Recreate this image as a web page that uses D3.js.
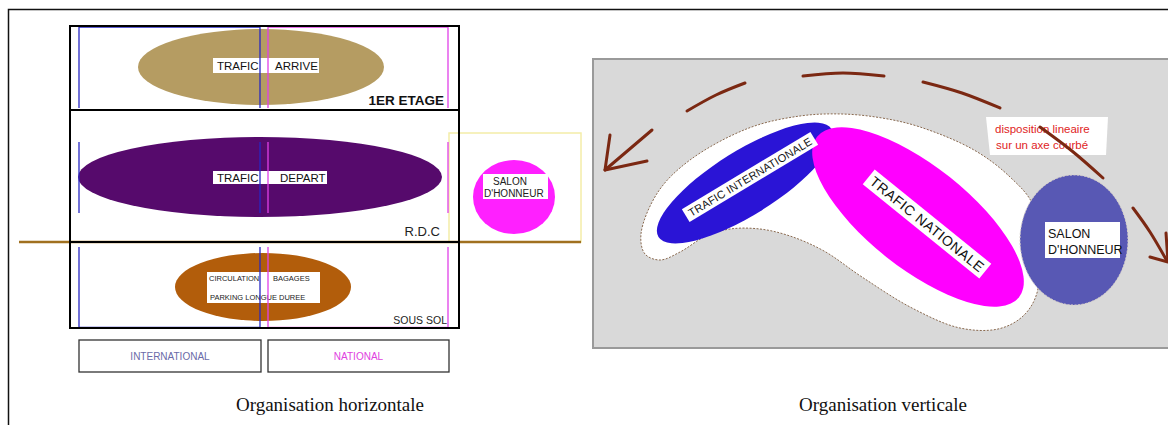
<!DOCTYPE html>
<html><head><meta charset="utf-8">
<script src="https://cdn.jsdelivr.net/npm/d3@7"></script>
<style>body{margin:0;background:#fff}svg{display:block}</style>
</head><body>
<svg id="c" width="1168" height="425"></svg>
<script>
// ---- content ----
const levels = ["1ER ETAGE", "R.D.C", "SOUS SOL"];
const zones = ["INTERNATIONAL", "NATIONAL"];
const flowsLeft = [["TRAFIC", "ARRIVE"], ["TRAFIC", "DEPART"], ["CIRCULATION", "BAGAGES", "PARKING LONGUE DUREE"]];
const salonLines = ["SALON", "D'HONNEUR"];
const flowsRight = ["TRAFIC INTERNATIONALE", "TRAFIC NATIONALE"];
const noteLines = ["disposition lineaire", "sur un axe courbé"];
const titles = ["Organisation horizontale", "Organisation verticale"];

const svg = d3.select("#c");
const SANS = "'Liberation Sans', Arial, sans-serif";
const SERIF = "'Liberation Serif', 'Times New Roman', serif";

// outer frame
svg.append("path").attr("d", "M8.5,440 V9.5 H1180").attr("fill", "none").attr("stroke", "#111").attr("stroke-width", 1.5);

// ================= LEFT: horizontal organisation =================
const L = svg.append("g");
const x0 = 70, x1 = 459;
const yLev = [26, 110, 242, 328];             // level boundaries
const xInt = [79, 260], xNat = [268, 448];    // zone columns

// yellow side frame (salon)
L.append("rect").attr("x", 449).attr("y", 133).attr("width", 132).attr("height", 109)
  .attr("fill", "none").attr("stroke", "#f4eda8").attr("stroke-width", 1.5);

// ellipses
const ell = [
  {cx: 261, cy: 67, rx: 123, ry: 38, fill: "#b59c62"},
  {cx: 260, cy: 177, rx: 182, ry: 40, fill: "#560a6c"},
  {cx: 263, cy: 287, rx: 88, ry: 34, fill: "#b25d0b"}
];
L.selectAll("ellipse.lev").data(ell).join("ellipse").attr("class", "lev")
  .attr("cx", d => d.cx).attr("cy", d => d.cy).attr("rx", d => d.rx).attr("ry", d => d.ry)
  .attr("fill", d => d.fill);

// white label boxes
L.append("rect").attr("x", 213).attr("y", 58).attr("width", 106).attr("height", 15).attr("fill", "#fff");
L.append("rect").attr("x", 213).attr("y", 171).attr("width", 114).attr("height", 13).attr("fill", "#fff");
L.append("rect").attr("x", 207).attr("y", 272).attr("width", 113).attr("height", 31).attr("fill", "#fff");

const t = (g, x, y, s, size, fill, anchor, weight) => g.append("text").attr("x", x).attr("y", y)
  .attr("font-family", SANS).attr("font-size", size).attr("fill", fill || "#111")
  .attr("text-anchor", anchor || "start").attr("font-weight", weight || "normal").text(s);

t(L, 217, 70, flowsLeft[0][0], 11.5);
t(L, 275, 70, flowsLeft[0][1], 11.5);
t(L, 217, 182, flowsLeft[1][0], 11.5);
t(L, 280, 182, flowsLeft[1][1], 11.5);
t(L, 209, 281, flowsLeft[2][0], 7.5, "#222");
t(L, 273, 281, flowsLeft[2][1], 7.5, "#222");
t(L, 210, 300, flowsLeft[2][2], 7.5, "#222");

// zone lines (blue / magenta)
const segs = [[26, 108], [142, 213], [247, 328]];
const zl = [];
segs.forEach(s => {
  zl.push({x: xInt[0], y0: s[0], y1: s[1], c: "#2727c4"});
  zl.push({x: xInt[1], y0: s[0], y1: s[1], c: "#2727c4"});
  zl.push({x: xNat[0], y0: s[0], y1: s[1], c: "#e040e8"});
  zl.push({x: xNat[1], y0: s[0], y1: s[1], c: "#e040e8"});
});
L.selectAll("line.z").data(zl).join("line").attr("class", "z")
  .attr("x1", d => d.x).attr("x2", d => d.x).attr("y1", d => d.y0).attr("y2", d => d.y1)
  .attr("stroke", d => d.c).attr("stroke-width", 1.3);
[[27, "#2727c4", xInt], [27, "#e040e8", xNat], [327.5, "#2727c4", xInt], [327.5, "#ee60ee", xNat]].forEach(([y, c, xs]) =>
  L.append("line").attr("x1", xs[0]).attr("x2", xs[1]).attr("y1", y).attr("y2", y).attr("stroke", c).attr("stroke-width", 1.3));

// ground line
L.append("line").attr("x1", 19).attr("x2", 581).attr("y1", 242).attr("y2", 242)
  .attr("stroke", "#a0701f").attr("stroke-width", 2.5);

// building frame
L.append("rect").attr("x", x0).attr("y", yLev[0]).attr("width", x1 - x0).attr("height", yLev[3] - yLev[0])
  .attr("fill", "none").attr("stroke", "#000").attr("stroke-width", 2);
[yLev[1], yLev[2]].forEach(y => L.append("line").attr("x1", x0).attr("x2", x1).attr("y1", y).attr("y2", y)
  .attr("stroke", "#000").attr("stroke-width", 2));

// level labels
t(L, 444, 105, levels[0], 13.5, "#111", "end", "bold");
t(L, 440, 236, levels[1], 13, "#222", "end");
t(L, 447, 324, levels[2], 10.5, "#222", "end");

// salon (left)
L.append("ellipse").attr("cx", 514).attr("cy", 197).attr("rx", 41).attr("ry", 37).attr("fill", "#ff20ff");
L.append("rect").attr("x", 483).attr("y", 174).attr("width", 65).attr("height", 25).attr("fill", "#fff");
t(L, 493, 185, salonLines[0], 10, "#222");
t(L, 484, 197, salonLines[1], 10, "#222");

// zone boxes
const zb = [{x: xInt[0], w: xInt[1] - xInt[0] + 1, c: "#6a6aa8"}, {x: xNat[0], w: xNat[1] - xNat[0] + 1, c: "#e040e0"}];
zb.forEach((d, i) => {
  L.append("rect").attr("x", d.x).attr("y", 340).attr("width", d.w).attr("height", 32)
    .attr("fill", "#fff").attr("stroke", "#333").attr("stroke-width", 1.3);
  t(L, d.x + d.w / 2, 360, zones[i], 10, d.c, "middle");
});

// ================= RIGHT: vertical organisation =================
const R = svg.append("g");
R.append("rect").attr("x", 593).attr("y", 59).attr("width", 600).attr("height", 289)
  .attr("fill", "#d9d9d9").attr("stroke", "#9a9a9a").attr("stroke-width", 2);

// white kidney-shaped zone
const blob = [[641,234],[658,192],[690,160],[749,128],[800,116],[842,114],[882,118],[920,127],[974,150],[1010,177],[1033,205],
  [1040,255],[1036,296],[1022,317],[998,329],[960,328],[912,308],[862,277],[824,251],[790,236],[760,229],[730,229],[706,236],[680,252],[660,260],[645,254]];
R.append("path").attr("d", d3.line().curve(d3.curveCatmullRomClosed.alpha(0.5))(blob))
  .attr("fill", "#fff").attr("stroke", "#8a6a50").attr("stroke-width", 1).attr("stroke-dasharray", "2,1.5");

// blue (international) and magenta (national) ellipses
const rEll = [
  {cx: 745, cy: 183, rx: 102, ry: 32, a: -32, fill: "#2a14d6"},
  {cx: 918, cy: 217, rx: 129, ry: 51, a: 38.5, fill: "#ff00ff"}
];
R.selectAll("ellipse.f").data(rEll).join("ellipse").attr("class", "f")
  .attr("rx", d => d.rx).attr("ry", d => d.ry).attr("fill", d => d.fill)
  .attr("transform", d => `translate(${d.cx},${d.cy}) rotate(${d.a})`);

// rotated labels
const rl = [
  {x: 750, y: 177, a: -31, s: flowsRight[0], size: 11, w: 150, h: 15},
  {x: 927, y: 224, a: 39, s: flowsRight[1], size: 14, w: 150, h: 19}
];
rl.forEach(d => {
  const g = R.append("g").attr("transform", `translate(${d.x},${d.y}) rotate(${d.a})`);
  g.append("rect").attr("x", -d.w / 2).attr("y", -d.h / 2).attr("width", d.w).attr("height", d.h).attr("fill", "#fff");
  g.append("text").attr("text-anchor", "middle").attr("dy", "0.36em").attr("font-family", SANS)
    .attr("font-size", d.size).attr("fill", "#111").attr("textLength", d.w - 8).text(d.s);
});

// salon (right)
R.append("ellipse").attr("cx", 1074).attr("cy", 240).attr("rx", 54).attr("ry", 65).attr("fill", "#5858b4")
  .attr("stroke", "#d8d0c8").attr("stroke-width", 1).attr("stroke-dasharray", "2,1.5");
R.append("rect").attr("x", 1045).attr("y", 222).attr("width", 75).attr("height", 36).attr("fill", "#fff");
t(R, 1048, 238, salonLines[0], 12.5, "#111");
t(R, 1048, 254, salonLines[1], 12.5, "#111");

// note
R.append("path").attr("d", "M986,117 L1108,117 L1106,155 L990,155 Z").attr("fill", "#fff");
t(R, 995, 133, noteLines[0], 11.5, "#e02424");
t(R, 996, 149, noteLines[1], 11.5, "#e02424");

// curved dashed arrow
const AR = "#7b2812";
const arrowSegs = [
  [[687,111],[716,95],[745,83]],
  [[803,76],[843,73],[884,76]],
  [[923,82],[962,93],[1000,108]],
  [[1040,127],[1072,151],[1103,178]],
  [[1133,208],[1150,232],[1167,261]],
  [[652,130],[605,170]],
  [[610,135],[605,170],[647,161]],
  [[1166,233],[1168,262],[1150,257]]
];
R.selectAll("path.ar").data(arrowSegs).join("path").attr("class", "ar")
  .attr("d", (d, i) => d3.line().curve(i < 5 ? d3.curveNatural : d3.curveLinear)(d))
  .attr("fill", "none").attr("stroke", AR).attr("stroke-width", 3).attr("stroke-linecap", "round").attr("stroke-linejoin", "round");

// titles
svg.selectAll("text.title").data(titles).join("text").attr("class", "title")
  .attr("x", (d, i) => [330, 883][i]).attr("y", 411).attr("text-anchor", "middle")
  .attr("font-family", SERIF).attr("font-size", 19).attr("fill", "#111").text(d => d);
</script>
</body></html>
